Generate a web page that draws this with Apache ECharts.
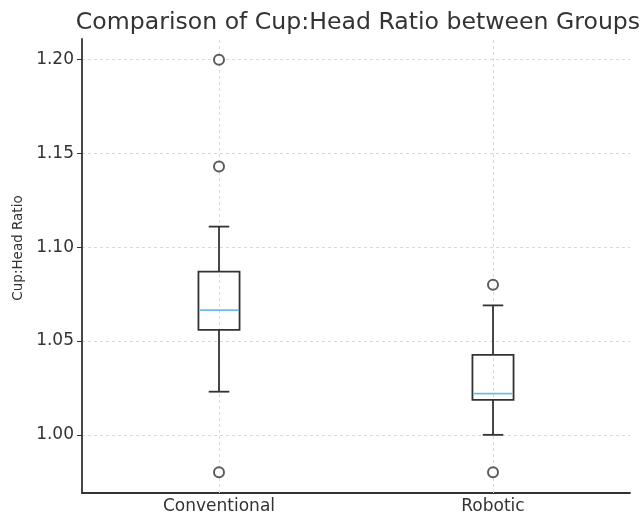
<!DOCTYPE html>
<html>
<head>
<meta charset="utf-8">
<script src="https://cdn.jsdelivr.net/npm/echarts@6/dist/echarts.min.js"></script>
<style>
  html, body { margin: 0; padding: 0; background: #fff; }
  #chart { width: 644px; height: 515px; }
</style>
</head>
<body>
<div id="chart"></div>
<script>
  // groups on the x axis
  var groups = ['Conventional', 'Robotic']
  // box stats per group: [lower whisker, Q1, median, Q3, upper whisker]
  var conventionalBox = [1.023, 1.056, 1.0665, 1.087, 1.111]
  var roboticBox = [1.000, 1.0186, 1.022, 1.0426, 1.069]
  // outliers per group
  var conventionalOutliers = [1.200, 1.143, 0.980]
  var roboticOutliers = [1.080, 0.980]
  // y tick labels
  var yTicks = [1.00, 1.05, 1.10, 1.15, 1.20]

  var boxRows = [
    [0].concat(conventionalBox),
    [1].concat(roboticBox)
  ]
  var outlierPoints = []
  conventionalOutliers.forEach(function (v) { outlierPoints.push([0, v]) })
  roboticOutliers.forEach(function (v) { outlierPoints.push([1, v]) })

  var lineColor = '#333333'

  function renderBox (params, api) {
    var x = api.value(0)
    var low = api.coord([x, api.value(1)])
    var q1 = api.coord([x, api.value(2)])
    var med = api.coord([x, api.value(3)])
    var q3 = api.coord([x, api.value(4)])
    var high = api.coord([x, api.value(5)])
    var band = api.size([1, 0])[0]
    var hw = band * 0.15 / 2
    var cw = hw / 2
    var cx = low[0]
    var st = { stroke: lineColor, lineWidth: 1.8, fill: null }
    return {
      type: 'group',
      children: [
        { type: 'rect', shape: { x: cx - hw, y: q3[1], width: hw * 2, height: q1[1] - q3[1] }, style: st },
        { type: 'line', shape: { x1: cx, y1: q1[1], x2: cx, y2: low[1] }, style: st },
        { type: 'line', shape: { x1: cx, y1: q3[1], x2: cx, y2: high[1] }, style: st },
        { type: 'line', shape: { x1: cx - cw, y1: low[1], x2: cx + cw, y2: low[1] }, style: st },
        { type: 'line', shape: { x1: cx - cw, y1: high[1], x2: cx + cw, y2: high[1] }, style: st },
        { type: 'line', shape: { x1: cx - hw + 1, y1: med[1], x2: cx + hw - 1, y2: med[1] }, style: { stroke: '#6cbde6', lineWidth: 1.8 } }
      ]
    }
  }

  var chart = echarts.init(document.getElementById('chart'))
  chart.setOption({
    animation: false,
    textStyle: { fontFamily: 'DejaVu Sans' },
    title: {
      text: 'Comparison of Cup:Head Ratio between Groups',
      left: 353,
      textAlign: 'center',
      top: 6,
      textStyle: { fontSize: 23.6, fontWeight: 'normal', color: '#333', fontFamily: 'DejaVu Sans' }
    },
    grid: { left: 82, right: 14, top: 39, bottom: 21, containLabel: false },
    xAxis: {
      type: 'category',
      data: groups,
      boundaryGap: true,
      axisLine: { lineStyle: { color: lineColor, width: 1.8 } },
      axisTick: { alignWithLabel: true, length: 5, lineStyle: { color: lineColor } },
      axisLabel: { fontSize: 17, color: '#333', margin: 5 },
      splitLine: { show: false }
    },
    yAxis: {
      type: 'value',
      min: 0.969,
      max: 1.211,
      name: 'Cup:Head Ratio',
      nameLocation: 'middle',
      nameRotate: 90,
      nameGap: 57,
      nameTextStyle: { fontSize: 13.5, color: '#333', padding: [0, 0, 0, 36] },
      axisLine: { show: true, lineStyle: { color: lineColor, width: 1.8 } },
      axisTick: { show: true, length: 5, customValues: yTicks, lineStyle: { color: lineColor } },
      axisLabel: {
        fontSize: 17,
        color: '#333',
        margin: 8,
        customValues: yTicks,
        formatter: function (v) { return v.toFixed(2) }
      },
      splitLine: { show: true, lineStyle: { color: '#d9d9d9', type: [3, 3], width: 1 } }
    },
    series: [
      {
        type: 'custom',
        renderItem: renderBox,
        data: boxRows,
        z: 3
      },
      {
        type: 'scatter',
        data: outlierPoints,
        symbol: 'circle',
        symbolSize: 10,
        itemStyle: { color: '#ffffff', borderColor: lineColor, borderWidth: 2 },
        z: 4,
        markLine: {
          silent: true,
          symbol: 'none',
          label: { show: false },
          lineStyle: { color: '#d9d9d9', type: [3, 3], width: 1 },
          data: groups.map(function (g) { return { xAxis: g } }),
          z: 1
        }
      }
    ]
  })
</script>
</body>
</html>
